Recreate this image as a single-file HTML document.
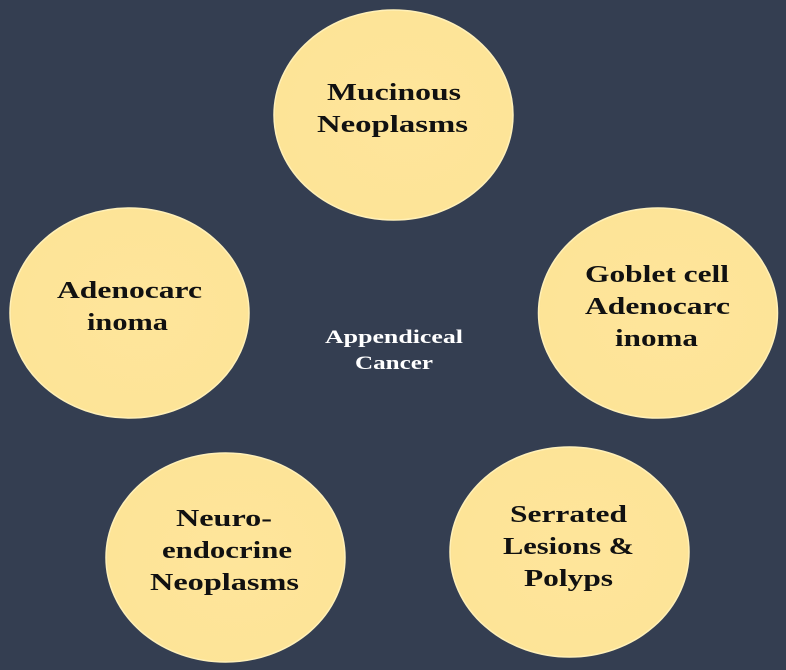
<!DOCTYPE html>
<html><head><meta charset="utf-8"><style>
html,body{margin:0;padding:0;background:#343e51;}
svg{display:block}
text{font-family:"Liberation Serif",serif;font-weight:bold;text-anchor:middle}
</style></head><body>
<svg width="786" height="670" viewBox="0 0 786 670">
<defs>
<radialGradient id="g" cx="0.55" cy="0.5" r="0.6">
<stop offset="0" stop-color="#fee59b"/><stop offset="0.9" stop-color="#fde497"/><stop offset="1" stop-color="#f3d88c"/>
</radialGradient>
</defs>
<rect width="786" height="670" fill="#343e51"/>
<g>
<ellipse cx="393.5" cy="115" rx="119.5" ry="105" fill="url(#g)" stroke="#fff0b8" stroke-width="1.5"/>
<text x="394" y="100" font-size="24" fill="#111" textLength="134" lengthAdjust="spacingAndGlyphs">Mucinous</text>
<text x="392.5" y="132" font-size="24" fill="#111" textLength="151" lengthAdjust="spacingAndGlyphs">Neoplasms</text>
</g>
<g>
<ellipse cx="129.5" cy="313" rx="119.5" ry="105" fill="url(#g)" stroke="#fff0b8" stroke-width="1.5"/>
<text x="129.5" y="298" font-size="24" fill="#111" textLength="145" lengthAdjust="spacingAndGlyphs">Adenocarc</text>
<text x="127.5" y="330" font-size="24" fill="#111" textLength="81" lengthAdjust="spacingAndGlyphs">inoma</text>
</g>
<g>
<ellipse cx="658" cy="313" rx="119.5" ry="105" fill="url(#g)" stroke="#fff0b8" stroke-width="1.5"/>
<text x="657" y="282" font-size="24" fill="#111" textLength="144" lengthAdjust="spacingAndGlyphs">Goblet cell</text>
<text x="657.5" y="314" font-size="24" fill="#111" textLength="145" lengthAdjust="spacingAndGlyphs">Adenocarc</text>
<text x="656.5" y="346" font-size="24" fill="#111" textLength="83" lengthAdjust="spacingAndGlyphs">inoma</text>
</g>
<g>
<ellipse cx="225.5" cy="557.5" rx="119.5" ry="104.5" fill="url(#g)" stroke="#fff0b8" stroke-width="1.5"/>
<text x="224" y="526" font-size="24" fill="#111" textLength="96" lengthAdjust="spacingAndGlyphs">Neuro-</text>
<text x="227" y="558" font-size="24" fill="#111" textLength="130" lengthAdjust="spacingAndGlyphs">endocrine</text>
<text x="224.5" y="590" font-size="24" fill="#111" textLength="149" lengthAdjust="spacingAndGlyphs">Neoplasms</text>
</g>
<g>
<ellipse cx="569.5" cy="552" rx="119.5" ry="105" fill="url(#g)" stroke="#fff0b8" stroke-width="1.5"/>
<text x="568.5" y="522" font-size="24" fill="#111" textLength="117" lengthAdjust="spacingAndGlyphs">Serrated</text>
<text x="568.5" y="554" font-size="24" fill="#111" textLength="131" lengthAdjust="spacingAndGlyphs">Lesions &amp;</text>
<text x="568.5" y="586" font-size="24" fill="#111" textLength="89" lengthAdjust="spacingAndGlyphs">Polyps</text>
</g>
<g>
<text x="394" y="343" font-size="19" fill="#ffffff" textLength="138" lengthAdjust="spacingAndGlyphs">Appendiceal</text>
<text x="394" y="369" font-size="19" fill="#ffffff" textLength="78" lengthAdjust="spacingAndGlyphs">Cancer</text>
</g>
</svg>
</body></html>
